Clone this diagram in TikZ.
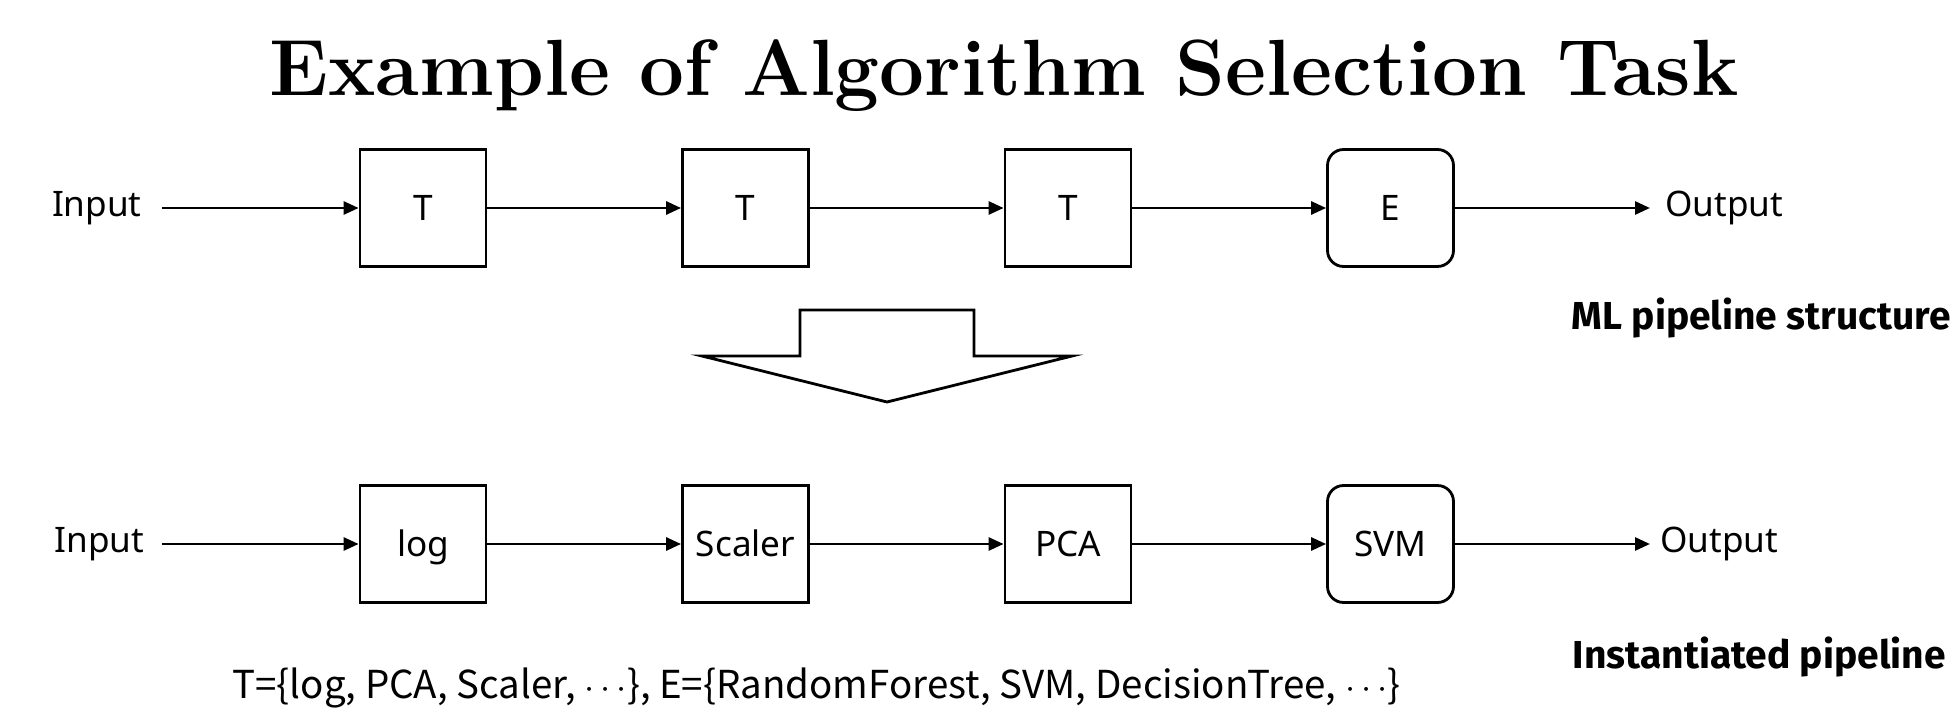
\documentclass[tikz,border=0pt]{standalone}
\usepackage{fontspec}
\usetikzlibrary{arrows.meta}
\newfontfamily\labelfont{Noto Sans}
\newfontfamily\tagfont{Fira Sans}
\newfontfamily\jpfont{Noto Sans CJK JP}

\tikzset{
  stepbox/.style={draw,line width=1.6pt,minimum width=2.52cm,minimum height=2.34cm,inner sep=0pt,
    text height=14.3pt,text depth=0pt,font=\labelfont\fontsize{20}{24}\selectfont},
  evalbox/.style={stepbox,rounded corners=0.32cm},
  io/.style={inner ysep=0pt,font=\labelfont\fontsize{20}{24}\selectfont},
  flow/.style={line width=1.6pt,-{Triangle[length=0.3cm,width=0.26cm]}},
  tag/.style={inner sep=0pt,font=\tagfont\bfseries\fontsize{22.2}{26}\selectfont}
}

\begin{document}
\begin{tikzpicture}[x=0.02cm,y=-0.02cm]
  \pgfmathsetmacro\xone{423}   % centre of first box
  \pgfmathsetmacro\xstep{322.5}  % distance between boxes
  \pgfmathsetmacro\rowa{208}
  \pgfmathsetmacro\rowb{544}
  \useasboundingbox (0,0) rectangle (1952,716);

% title
  \node[anchor=base,font=\bfseries\fontsize{45.4}{54}\selectfont] (title) at (1004,96)
       {Example of Algorithm Selection Task};

% pipeline structure
  \node[io,anchor=east,inner xsep=0.4cm] (ina) at (162,\rowa) {Input};
  \node[stepbox] (ta) at (\xone,\rowa) {T};
  \node[stepbox] (tb) at (\xone+\xstep,\rowa) {T};
  \node[stepbox] (tc) at (\xone+2*\xstep,\rowa) {T};
  \node[evalbox] (ea) at (\xone+3*\xstep,\rowa) {E};
  \node[io,anchor=west,inner xsep=0.3cm] (outa) at (1650,\rowa) {Output};
  \draw[flow] (ina) -- (ta);
  \draw[flow] (ta) -- (tb);
  \draw[flow] (tb) -- (tc);
  \draw[flow] (tc) -- (ea);
  \draw[flow] (ea) -- (outa);
  \node[tag,anchor=base east] (taga) at (1951,330) {ML pipeline structure};

% big arrow
  \draw[line width=1.6pt,miter limit=20]
       (800,310) -- (974,310) -- (974,356) -- (1072,356) -- (887,402) -- (702,356) -- (800,356) -- cycle;

% instantiated pipeline
  \node[io,anchor=east,inner xsep=0.35cm] (inb) at (162,\rowb) {Input};
  \node[stepbox] (pa) at (\xone,\rowb) {log};
  \node[stepbox] (pb) at (\xone+\xstep,\rowb) {Scaler};
  \node[stepbox] (pc) at (\xone+2*\xstep,\rowb) {PCA};
  \node[evalbox] (eb) at (\xone+3*\xstep,\rowb) {SVM};
  \node[io,anchor=west,inner xsep=0.2cm] (outb) at (1650,\rowb) {Output};
  \draw[flow] (inb) -- (pa);
  \draw[flow] (pa) -- (pb);
  \draw[flow] (pb) -- (pc);
  \draw[flow] (pc) -- (eb);
  \draw[flow] (eb) -- (outb);
  \node[tag,anchor=base east] (tagb) at (1946,668) {Instantiated pipeline};

% search space
  \node[anchor=base west,inner sep=0pt,font=\jpfont\fontsize{21.9}{25}\selectfont] (space) at (232,698)
       {T=\{log, PCA, Scaler, $\cdots$\}, E=\{RandomForest, SVM, DecisionTree, $\cdots$\}};
\end{tikzpicture}
\end{document}
